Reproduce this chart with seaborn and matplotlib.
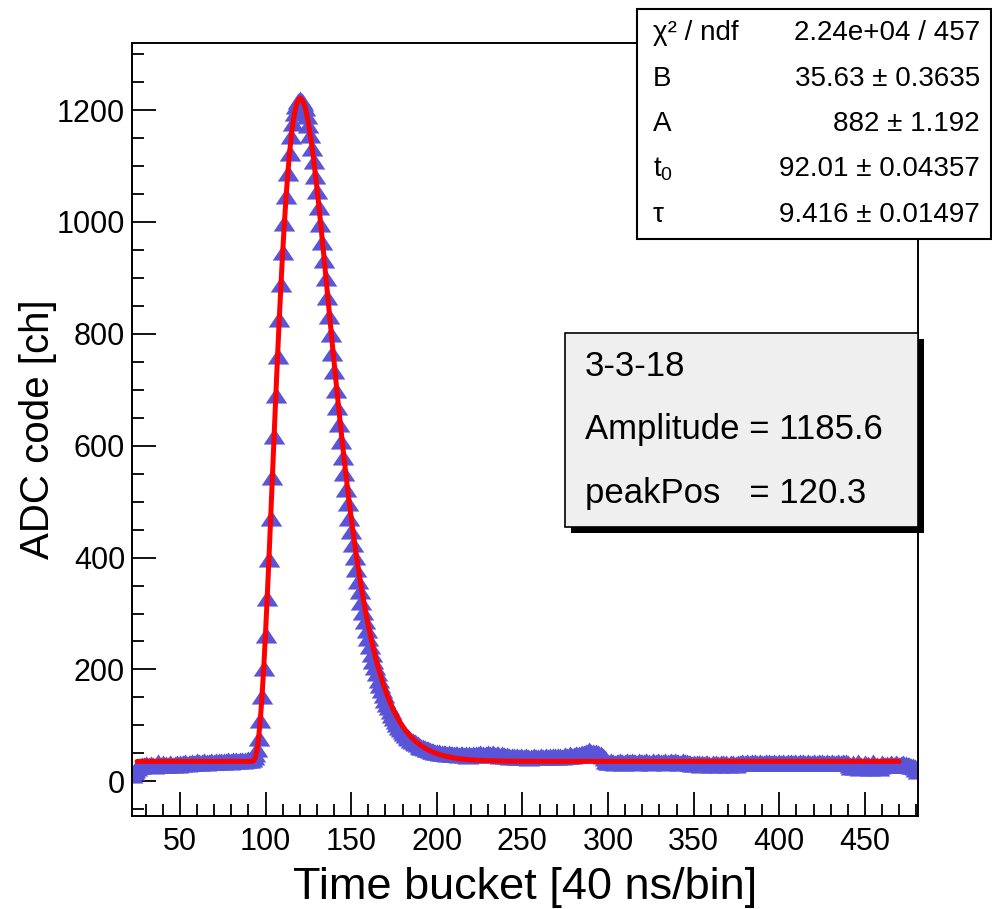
import numpy as np
import pandas as pd
import matplotlib
matplotlib.use("Agg")
import matplotlib.pyplot as plt
import seaborn as sns
from matplotlib.patches import Rectangle
from matplotlib.ticker import MultipleLocator

# ADC samples, one per time bucket (22 ... 481)
first_bucket = 22
adc_values = [
    # 22-91 baseline
    12, 17, 21, 24, 27, 28, 30, 29, 31, 30,
    29, 31, 30, 28, 30, 35, 29, 30, 32, 30,
    31, 30, 32, 31, 29, 31, 32, 30, 33, 31,
    32, 34, 31, 33, 32, 34, 33, 32, 37, 35,
    33, 34, 36, 33, 35, 34, 36, 35, 34, 36,
    35, 37, 36, 34, 37, 36, 38, 35, 37, 38,
    36, 38, 37, 39, 38, 37, 39, 38, 40, 39,
    # 92-200 pulse
    40, 44, 49, 58, 78, 110, 152, 203, 262, 328,
    397, 470, 544, 618, 690, 760, 826, 889, 946, 999,
    1046, 1087, 1123, 1153, 1177, 1195, 1208, 1216, 1219, 1217,
    1212, 1203, 1190, 1174, 1155, 1133, 1109, 1083, 1055, 1026,
    996, 964, 932, 899, 866, 832, 799, 765, 733, 700,
    669, 638, 608, 579, 551, 523, 497, 471, 447, 424,
    401, 380, 359, 340, 321, 303, 287, 271, 256, 242,
    228, 216, 204, 193, 182, 172, 163, 154, 146, 139,
    132, 125, 119, 113, 108, 103, 98, 94, 90, 86,
    83, 80, 77, 74, 72, 70, 68, 66, 64, 62,
    61, 59, 58, 57, 56, 55, 54, 53, 52,
    # 201-481 tail
    52, 51, 50, 51, 50, 49, 50, 49, 48, 49,
    48, 49, 47, 48, 49, 47, 48, 46, 48, 47,
    48, 47, 49, 48, 50, 48, 49, 47, 48, 50,
    49, 48, 50, 47, 49, 48, 46, 48, 47, 45,
    47, 46, 44, 46, 45, 43, 45, 44, 46, 44,
    43, 45, 44, 42, 44, 43, 45, 44, 43, 44,
    45, 43, 44, 46, 44, 45, 43, 45, 46, 44,
    45, 46, 44, 46, 47, 45, 46, 48, 46, 47,
    48, 47, 49, 48, 50, 51, 53, 52, 56, 52,
    53, 51, 52, 50, 49, 48, 45, 41, 37, 35,
    34, 36, 35, 33, 35, 34, 36, 35, 33, 34,
    36, 34, 35, 37, 34, 35, 33, 36, 35, 34,
    35, 36, 34, 35, 33, 36, 35, 34, 37, 35,
    34, 35, 36, 33, 35, 34, 36, 35, 37, 34,
    35, 33, 34, 36, 35, 34, 32, 33, 31, 32,
    31, 33, 32, 30, 32, 31, 33, 32, 31, 30,
    32, 31, 33, 31, 30, 32, 33, 31, 32, 30,
    31, 33, 32, 30, 31, 33, 32, 34, 33, 32,
    34, 33, 32, 34, 33, 35, 33, 32, 34, 33,
    32, 34, 33, 35, 32, 33, 34, 32, 33, 35,
    33, 34, 32, 33, 35, 33, 34, 32, 34, 33,
    32, 34, 33, 35, 33, 32, 34, 33, 32, 34,
    33, 32, 34, 33, 35, 32, 33, 34, 32, 33,
    34, 33, 32, 34, 33, 32, 34, 33, 35, 32,
    30, 26, 33, 25, 29, 34, 24, 30, 26, 33,
    25, 31, 24, 29, 34, 25, 30, 24, 27, 32,
    30, 29, 31, 30, 32, 31, 30, 32, 31, 30,
    31, 32, 30, 31, 29, 30, 28, 27, 25, 22, 18,
]
buckets = np.arange(first_bucket, first_bucket + len(adc_values))

# fitted pulse shape (B=35.63, A=882, t0=92.01, tau=9.416)
fit_t = [25, 92, 93, 94, 95, 96, 97, 98, 99, 100, 101, 102, 103, 104, 105, 106, 107, 108, 109, 110,
         111, 112, 113, 114, 115, 116, 117, 118, 119, 120, 121, 122, 123, 124, 125, 126, 127, 128,
         129, 130, 131, 132, 133, 134, 135, 136, 137, 138, 139, 140, 141, 142, 143, 144, 145, 146,
         147, 148, 149, 150, 151, 152, 153, 154, 155, 156, 157, 158, 159, 160, 161, 162, 163, 164,
         165, 166, 167, 168, 169, 170, 171, 172, 173, 174, 175, 176, 177, 178, 179, 180, 182, 184,
         186, 188, 190, 192, 194, 196, 198, 200, 205, 210, 215, 220, 225, 230, 240, 250, 300, 470]
fit_y = [35.6, 35.6, 36.6, 42.4, 56.2, 79.5, 112.9, 155.8, 207.3, 266.3, 331.1, 400.2, 472.1, 545.4,
         618.5, 690.3, 759.8, 826.1, 888.5, 946.0, 998.6, 1045.9, 1087.1, 1123.1, 1152.9, 1177.1,
         1195.7, 1209.4, 1217.6, 1221.2, 1219.8, 1214.8, 1205.6, 1192.9, 1177.1, 1158.3, 1136.7,
         1113.2, 1087.3, 1060.3, 1031.9, 1002.4, 971.4, 940.7, 908.6, 877.1, 844.8, 813.2, 781.1,
         750.0, 718.8, 688.4, 658.6, 629.5, 601.0, 573.5, 546.7, 520.5, 495.5, 471.5, 448.3, 425.6,
         404.5, 383.9, 364.3, 345.1, 327.4, 310.4, 294.1, 278.3, 264.0, 250.0, 236.8, 224.3, 212.3,
         201.3, 190.8, 180.8, 171.4, 162.3, 154.2, 146.4, 139.0, 132.1, 125.3, 119.5, 113.8, 108.4,
         103.4, 98.4, 90.0, 82.6, 76.1, 70.5, 65.6, 61.5, 57.8, 54.6, 51.9, 49.5, 45.0, 41.9, 39.8,
         38.4, 37.5, 36.8, 36.1, 35.8, 35.6, 35.6]

stat_names = ["χ² / ndf", "B", "A", "$\\mathregular{t_0}$", "τ"]
stat_values = ["2.24e+04 / 457", "35.63 ± 0.3635", "882 ± 1.192", "92.01 ± 0.04357", "9.416 ± 0.01497"]
info_lines = ["3-3-18", "Amplitude = 1185.6", "peakPos   = 120.3"]

df = pd.DataFrame({"bucket": buckets, "adc": adc_values})
fit_df = pd.DataFrame({"t": fit_t, "y": fit_y})

sns.set_style("white")
plt.rcParams["font.family"] = ["Liberation Sans", "DejaVu Sans"]
plt.rcParams["mathtext.fontset"] = "custom"
plt.rcParams["mathtext.rm"] = "Liberation Sans"
plt.rcParams["text.color"] = "black"
plt.rcParams["axes.labelcolor"] = "black"

W, H = 992, 909
fig = plt.figure(figsize=(W / 100, H / 100), dpi=100)
ax = fig.add_axes([132 / W, 1 - 816 / H, (918 - 132) / W, (816 - 43) / H])

tri = [(0, 0.75), (-1, -0.75), (1, -0.75)]
sns.scatterplot(data=df, x="bucket", y="adc", marker=tri, s=240, color="#5954d8",
                linewidth=0, ax=ax, zorder=2)
sns.lineplot(data=fit_df, x="t", y="y", color="red", linewidth=3.6, ax=ax, zorder=3)

ax.set_xlim(22, 481)
ax.set_ylim(-62, 1320)
ax.xaxis.set_major_locator(MultipleLocator(50))
ax.xaxis.set_minor_locator(MultipleLocator(10))
ax.yaxis.set_major_locator(MultipleLocator(200))
ax.yaxis.set_minor_locator(MultipleLocator(50))
ax.tick_params(which="both", direction="in", bottom=True, left=True, top=False, right=False,
               width=1.3, labelsize=22, colors="black")
ax.tick_params(axis="x", which="major", length=17, pad=8)
ax.tick_params(axis="x", which="minor", length=8.5)
ax.tick_params(axis="y", which="major", length=17, pad=5)
ax.tick_params(axis="y", which="minor", length=8.5)
for sp in ax.spines.values():
    sp.set_color("black")
    sp.set_linewidth(1.4)

ax.set_xlabel("Time bucket [40 ns/bin]", fontsize=32.5, labelpad=7)
ax.set_ylabel("ADC code [ch]", fontsize=29, labelpad=0)

# fit statistics box (top right)
fig.add_artist(Rectangle((637 / W, 1 - 239 / H), 354 / W, 230 / H, transform=fig.transFigure,
                         facecolor="white", edgecolor="black", linewidth=1.5, zorder=10))
for i, (name, val) in enumerate(zip(stat_names, stat_values)):
    y = 1 - (33 + 45.5 * i) / H
    fig.text(653 / W, y, name, fontsize=20, ha="left", va="center", zorder=11)
    fig.text(980 / W, y, val, fontsize=20, ha="right", va="center", zorder=11)

# info box with shadow
fig.add_artist(Rectangle((571 / W, 1 - 533 / H), 353 / W, 194 / H, transform=fig.transFigure,
                         facecolor="black", edgecolor="black", linewidth=0, zorder=10))
fig.add_artist(Rectangle((565 / W, 1 - 527 / H), 353 / W, 194 / H, transform=fig.transFigure,
                         facecolor="#efefef", edgecolor="black", linewidth=1.2, zorder=11))
for i, line in enumerate(info_lines):
    fig.text(585 / W, 1 - (367 + 63 * i) / H, line, fontsize=25, ha="left", va="center", zorder=12)

fig.savefig("out.png", dpi=100)
